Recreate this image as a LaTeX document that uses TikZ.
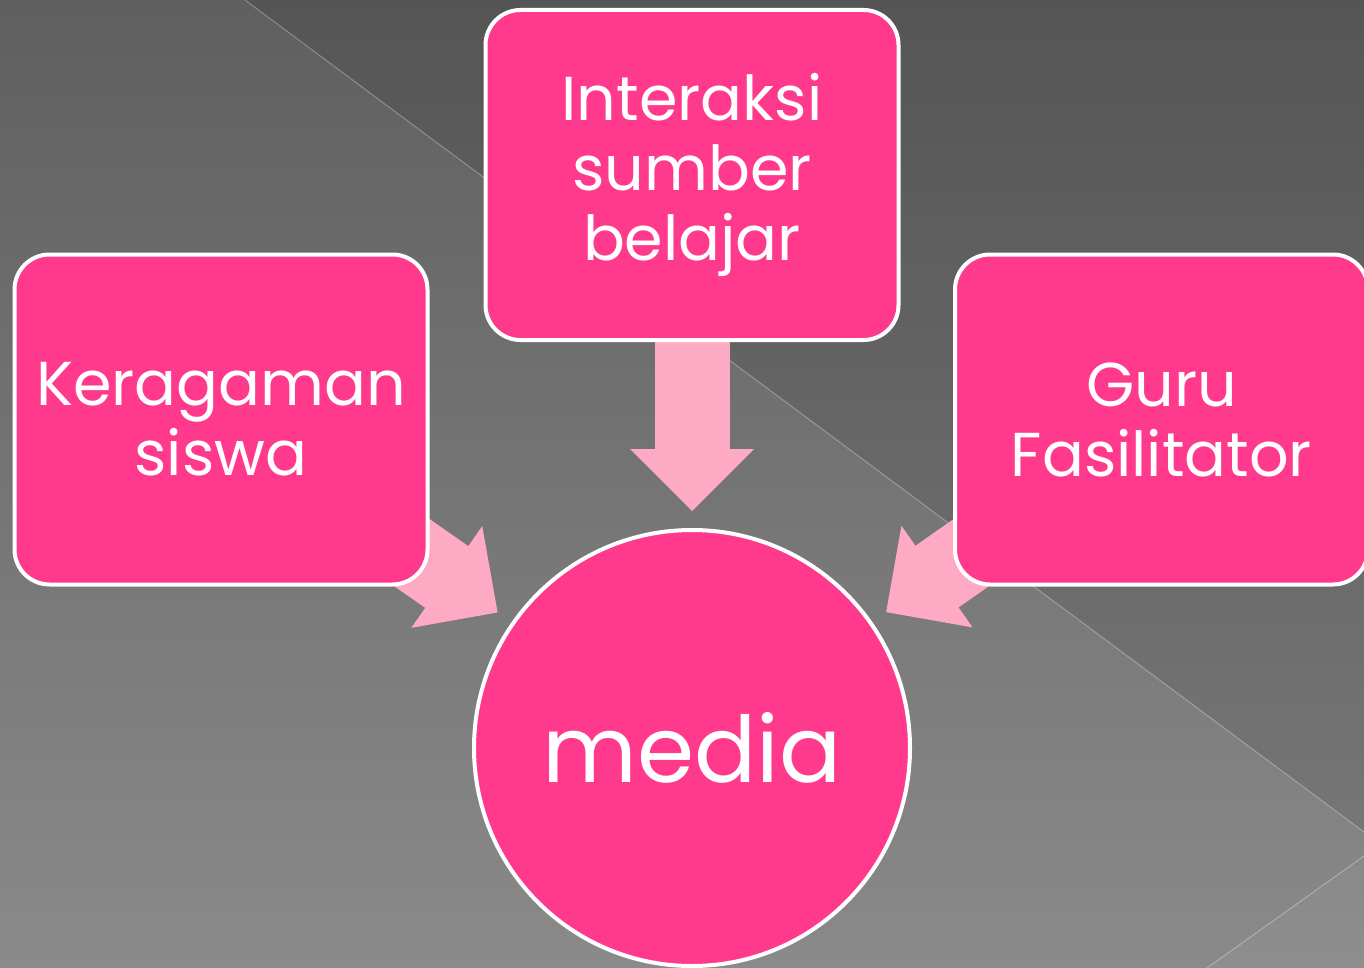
\documentclass[tikz,border=0pt]{standalone}
\usepackage{fontspec}
\setmainfont{Poppins}
\usetikzlibrary{arrows.meta}

\definecolor{boxpink}{HTML}{FF3A8C}
\definecolor{arrowpink}{HTML}{FFAAC4}
\definecolor{bgtop}{HTML}{5F5F5F}
\definecolor{bgbot}{HTML}{8A8A8A}

\pgfdeclarelayer{back}
\pgfdeclarelayer{flow}
\pgfsetlayers{back,flow,main}

\begin{document}
\begin{tikzpicture}
  [x=1pt,y=-1pt,
   box/.style={rectangle,rounded corners=35pt,fill=boxpink,draw=white,line width=4pt,
     minimum width=413pt,minimum height=330pt,align=center,text=white,
     font=\fontsize{62}{70}\selectfont},
   bigcircle/.style={circle,fill=boxpink,draw=white,line width=4pt,minimum size=436pt,
     text=white,font=\fontsize{92}{100}\selectfont},
   fatarrow/.style={arrowpink,line width=75pt,shorten >=17pt,
     -{Triangle[width=124pt,length=62pt,line width=0pt]}},
   fatshaft/.style={arrowpink,line width=75pt,shorten >=74pt}]
  \useasboundingbox (0,0) rectangle (1364,968);

  % background
  \begin{pgfonlayer}{back}
    \shade[top color=bgtop,bottom color=bgbot] (0,0) rectangle (1364,968);
    \fill[black,opacity=.1] (245,0) -- (1364,0) -- (1364,832) -- cycle;
    \fill[white,opacity=.04] (1364,856) -- (1207,968) -- (1364,968) -- cycle;
    \draw[white,opacity=.3,line width=1pt] (245,0) -- (1364,832);
    \draw[white,opacity=.3,line width=1pt] (1364,856) -- (1207,968);
  \end{pgfonlayer}

  \node (n1)[box] at (692,175) {Interaksi\\sumber\\belajar};
  \node (n2)[box] at (221,419.5) {Keragaman\\siswa};
  \node (n3)[box] at (1161.5,419.5) {Guru\\Fasilitator};
  \node (n4)[bigcircle] at (692,748) {media};

  \begin{pgfonlayer}{flow}
    \foreach \from in {n1,n2,n3}{
      \draw[fatarrow] (\from.center) -- (n4);
      \draw[fatshaft] (\from.center) -- (n4);
    }
  \end{pgfonlayer}

\end{tikzpicture}
\end{document}
